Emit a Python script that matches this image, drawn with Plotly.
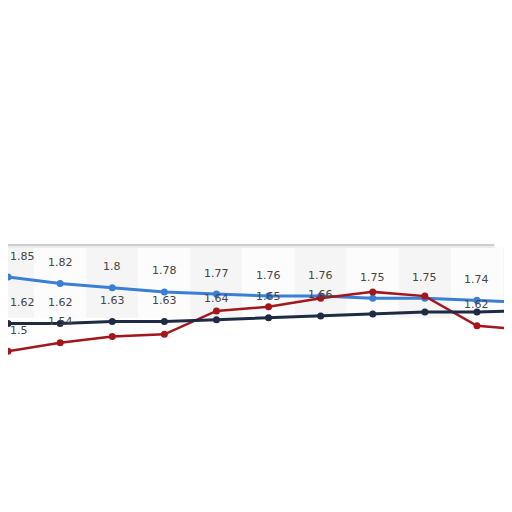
import plotly.graph_objects as go

# data (last point lies just past the right edge)
categories = list(range(11))
blue_vals = [1.85, 1.82, 1.80, 1.78, 1.77, 1.76, 1.76, 1.75, 1.75, 1.74, 1.73]
navy_vals = [1.62, 1.62, 1.63, 1.63, 1.64, 1.65, 1.66, 1.67, 1.68, 1.68, 1.69]
red_vals = [1.50, 1.54, 1.57, 1.58, 1.69, 1.71, 1.75, 1.78, 1.76, 1.62, 1.60]

# which labels are visible in the picture
blue_show = [True] * 10 + [False]
navy_show = [True] * 7 + [False] * 4
red_show = [True, True] + [False] * 7 + [True, False]

BLUE = "#3a7fd6"
NAVY = "#1d2b45"
RED = "#a3161c"

fig = go.Figure()

fig.add_trace(go.Scatter(x=categories, y=blue_vals, mode="lines+markers", cliponaxis=False,
                         line=dict(color=BLUE, width=3), marker=dict(size=7, color=BLUE)))
fig.add_trace(go.Scatter(x=categories, y=navy_vals, mode="lines+markers", yaxis="y2", cliponaxis=False,
                         line=dict(color=NAVY, width=3), marker=dict(size=7, color=NAVY)))
fig.add_trace(go.Scatter(x=categories, y=red_vals, mode="lines+markers", cliponaxis=False,
                         line=dict(color=RED, width=2.5), marker=dict(size=7, color=RED)))

lab_font = dict(family="DejaVu Sans", size=11, color="#454545")
for vals, show, yref in [(blue_vals, blue_show, "y"), (navy_vals, navy_show, "y2"),
                         (red_vals, red_show, "y")]:
    for i, v in enumerate(vals):
        if show[i]:
            # first column would be cut by the left edge, keep it inside
            anchor = "left" if i == 0 else "center"
            fig.add_annotation(x=categories[i], y=v, yref=yref, text=f"{v:g}", xanchor=anchor,
                               showarrow=False, yshift=21, font=lab_font)

# background paper bands
shapes = []
for i in categories:
    shapes.append(dict(type="rect", xref="x", yref="paper", x0=i - 0.5, x1=i + 0.5,
                       y0=0.395, y1=0.533, fillcolor="#f5f5f5" if i % 2 == 0 else "#fcfcfc",
                       line=dict(width=0), layer="below"))
shapes.append(dict(type="line", xref="paper", yref="paper", x0=-0.02, x1=0.95, y0=0.537, y1=0.537,
                   line=dict(color="#cfcfcf", width=2)))
shapes.append(dict(type="line", xref="paper", yref="paper", x0=-0.02, x1=0.95, y0=0.533, y1=0.533,
                   line=dict(color="#ececec", width=2)))
fig.update_layout(shapes=shapes)

fig.update_layout(
    width=512, height=512,
    margin=dict(l=0, r=0, t=0, b=0),
    paper_bgcolor="white", plot_bgcolor="white",
    showlegend=False,
    xaxis=dict(range=[-0.001, 9.826], visible=False),
    yaxis=dict(range=[0.704, 3.119], visible=False),
    yaxis2=dict(range=[0.586, 3.2805], overlaying="y", visible=False),
)

fig.write_html("out.html")
